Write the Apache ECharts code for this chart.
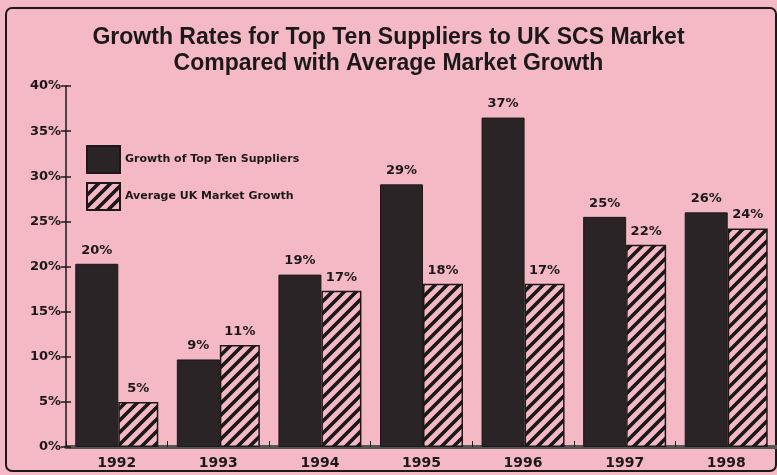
<!DOCTYPE html>
<html>
<head>
<meta charset="utf-8">
<script src="https://cdn.jsdelivr.net/npm/echarts@6/dist/echarts.min.js"></script>
<style>
  html, body { margin: 0; padding: 0; background: #f4b9c5; }
  #chart { width: 777px; height: 475px; }
</style>
</head>
<body>
<div id="chart"></div>
<script>
// categories and values
const years = ["1992", "1993", "1994", "1995", "1996", "1997", "1998"];
const topTen = [20.3, 9.7, 19.1, 29.1, 36.5, 25.5, 26.0];
const topTenLabels = ["20%", "9%", "19%", "29%", "37%", "25%", "26%"];
const avgMarket = [5.0, 11.3, 17.3, 18.1, 18.1, 22.4, 24.2];
const avgMarketLabels = ["5%", "11%", "17%", "18%", "17%", "22%", "24%"];
const yTicks = [0, 5, 10, 15, 20, 25, 30, 35, 40];

const pink = "#f4b9c5";
const ink = "#1c1819";

// diagonal hatch for the market growth bars
function makeHatch() {
  const s = 12;
  const c = document.createElement("canvas");
  c.width = s; c.height = s;
  const g = c.getContext("2d");
  g.fillStyle = pink;
  g.fillRect(0, 0, s, s);
  g.strokeStyle = ink;
  g.lineWidth = 3.6;
  g.beginPath();
  g.moveTo(0, s); g.lineTo(s, 0);
  g.moveTo(-s / 2, s / 2); g.lineTo(s / 2, -s / 2);
  g.moveTo(s / 2, s * 1.5); g.lineTo(s * 1.5, s / 2);
  g.stroke();
  return c;
}

const chart = echarts.init(document.getElementById("chart"));
const boldFont = "DejaVu Sans";

const labelStyle = {
  show: true,
  position: "top",
  distance: 7,
  color: ink,
  fontFamily: boldFont,
  fontWeight: "bold",
  fontSize: 13,
};

chart.setOption({
  backgroundColor: pink,
  animation: false,
  title: {
    text: "Growth Rates for Top Ten Suppliers to UK SCS Market\nCompared with Average Market Growth",
    left: "center",
    top: 20,
    textStyle: {
      fontFamily: "Liberation Sans",
      fontWeight: "bold",
      fontSize: 23,
      lineHeight: 26,
      color: ink,
    },
  },
  graphic: [
    {
      type: "rect",
      shape: { x: 6, y: 8, width: 770, height: 463, r: 6 },
      style: { fill: "none", stroke: ink, lineWidth: 2 },
      silent: true,
    },
  ],
  legend: {
    orient: "vertical",
    left: 81,
    top: 140,
    icon: "rect",
    itemWidth: 33,
    itemHeight: 27,
    itemGap: 8,
    textStyle: {
      fontFamily: boldFont,
      fontWeight: "bold",
      fontSize: 11,
      color: ink,
    },
    data: ["Growth of Top Ten Suppliers", "Average UK Market Growth"],
  },
  grid: { left: 66, right: 0, top: 86, bottom: 28 },
  xAxis: {
    type: "category",
    data: years,
    axisLine: { lineStyle: { color: "#555", width: 4, type: [3, 1] } },
    axisTick: { show: true, inside: true, length: 6, lineStyle: { color: ink, width: 1 } },
    axisLabel: {
      color: ink,
      fontFamily: boldFont,
      fontWeight: "bold",
      fontSize: 14,
      margin: 9,
    },
  },
  yAxis: [
    {
      type: "value",
      min: yTicks[0],
      max: yTicks[yTicks.length - 1],
      interval: 5,
      splitLine: { show: false },
      axisLine: { show: true, lineStyle: { color: ink, width: 1.5 } },
      axisTick: { show: true, length: 5, lineStyle: { color: ink, width: 1.5 } },
      axisLabel: {
        formatter: "{value}%",
        color: ink,
        fontFamily: boldFont,
        fontWeight: "bold",
        fontSize: 13,
        margin: 5,
      },
    },
    {
      type: "value",
      position: "left",
      min: yTicks[0],
      max: yTicks[yTicks.length - 1],
      interval: 5,
      splitLine: { show: false },
      axisLine: { show: false },
      axisTick: { show: true, inside: true, length: 5, lineStyle: { color: ink, width: 1.5 } },
      axisLabel: { show: false },
    },
  ],
  series: [
    {
      name: "Growth of Top Ten Suppliers",
      type: "bar",
      barWidth: 43,
      barGap: "0%",
      itemStyle: { color: "#2a2426", borderColor: ink, borderWidth: 1 },
      label: { ...labelStyle, formatter: (p) => topTenLabels[p.dataIndex] },
      data: topTen,
    },
    {
      name: "Average UK Market Growth",
      type: "bar",
      barWidth: 40,
      itemStyle: {
        color: { image: makeHatch(), repeat: "repeat" },
        borderColor: ink,
        borderWidth: 1.5,
      },
      label: { ...labelStyle, formatter: (p) => avgMarketLabels[p.dataIndex] },
      data: avgMarket,
    },
  ],
});
</script>
</body>
</html>
